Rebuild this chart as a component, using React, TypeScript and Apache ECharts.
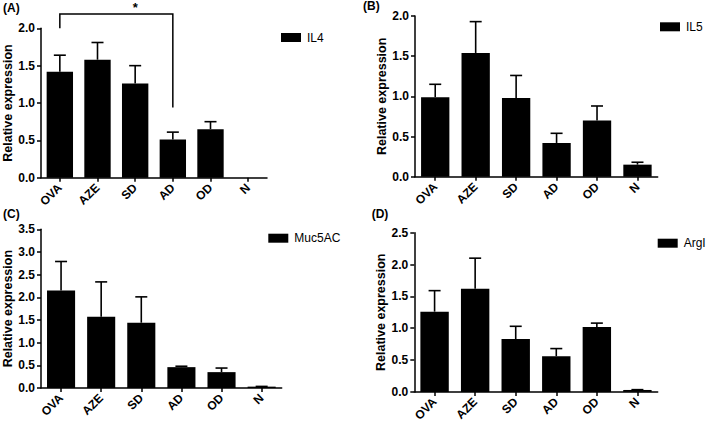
import React, { useEffect, useRef } from "react";
import * as echarts from "echarts";

const categories = ["OVA", "AZE", "SD", "AD", "OD", "N"];

const il4Mean = [1.42, 1.58, 1.26, 0.51, 0.65, 0];
const il4Err = [0.22, 0.23, 0.24, 0.1, 0.1, 0];

const il5Mean = [0.99, 1.54, 0.98, 0.42, 0.7, 0.15];
const il5Err = [0.16, 0.39, 0.28, 0.12, 0.18, 0.03];

const mucMean = [2.15, 1.57, 1.44, 0.46, 0.35, 0.03];
const mucErr = [0.64, 0.77, 0.57, 0.02, 0.09, 0.005];

const argMean = [1.26, 1.62, 0.83, 0.56, 1.02, 0.03];
const argErr = [0.33, 0.48, 0.2, 0.12, 0.06, 0.005];

const seriesNames = ["IL4", "IL5", "Muc5AC", "ArgI"];
const panelLabels = ["(A)", "(B)", "(C)", "(D)"];
const yMax = [2, 2, 3.5, 2.5];
const yTitle = "Relative expression";

// significance bracket in panel A: [fromIndex, toIndex, topValue, leftLegEnd, rightLegEnd]
const bracketA = [0, 3, 2.19, 2.0, 0.94];
const starValue = 2.37;
const starText = "*";

const FONT = "Liberation Sans, Arial, sans-serif";

export default function App() {
  const ref = useRef<HTMLDivElement>(null);
  useEffect(() => {
    if (!ref.current) return;
    const chart = echarts.init(ref.current, null, { renderer: "svg" });

    const grids = [
      { left: 41, top: 28.3, width: 226, height: 149.4 },
      { left: 415, top: 16, width: 242.7, height: 160.7 },
      { left: 41, top: 229.3, width: 240.7, height: 158.7 },
      { left: 414.3, top: 232.7, width: 243.4, height: 160.3 },
    ];
    const legendPos = [
      { left: 281, top: 31.5 },
      { left: 660, top: 20.8 },
      { left: 268.3, top: 232.2 },
      { left: 657.7, top: 237.2 },
    ];
    const labelPos = [
      [3, 2],
      [363, 0],
      [3, 207.5],
      [371.7, 207.5],
    ];
    const means = [il4Mean, il5Mean, mucMean, argMean];
    const errs = [il4Err, il5Err, mucErr, argErr];

    const axisLine = { show: true, lineStyle: { color: "#000", width: 1.5 } };
    const axisTick = { show: true, length: 4, lineStyle: { color: "#000", width: 1.5 } };

    const xAxis = grids.map((_, i) => ({
      type: "category",
      gridIndex: i,
      data: categories,
      axisLine,
      axisTick: { ...axisTick, alignWithLabel: true },
      axisLabel: {
        rotate: 45,
        margin: 8,
        color: "#000",
        fontWeight: "bold",
        fontSize: 12,
        fontFamily: FONT,
        interval: 0,
      },
    }));
    const yAxis = grids.map((_, i) => ({
      type: "value",
      gridIndex: i,
      min: 0,
      max: yMax[i],
      interval: 0.5,
      name: yTitle,
      nameLocation: "middle",
      nameRotate: 90,
      nameGap: 26,
      nameTextStyle: { color: "#000", fontWeight: "bold", fontSize: 12.5, fontFamily: FONT },
      axisLine,
      axisTick,
      splitLine: { show: false },
      axisLabel: {
        margin: 6,
        color: "#000",
        fontWeight: "bold",
        fontSize: 12,
        fontFamily: FONT,
        formatter: (v: number) => v.toFixed(1),
      },
    }));

    const series: any[] = [];
    grids.forEach((_, i) => {
      series.push({
        type: "bar",
        name: seriesNames[i],
        xAxisIndex: i,
        yAxisIndex: i,
        data: means[i],
        barCategoryGap: "30%",
        itemStyle: { color: "#000" },
      });
      series.push({
        type: "custom",
        name: seriesNames[i] + " err",
        xAxisIndex: i,
        yAxisIndex: i,
        clip: false,
        data: means[i].map((m, k) => [k, m, errs[i][k]]),
        renderItem: (params: any, api: any) => {
          const x = api.value(0);
          const m = api.value(1);
          const e = api.value(2);
          if (!e) return null;
          const p0 = api.coord([x, m]);
          const p1 = api.coord([x, m + e]);
          const style = { stroke: "#000", lineWidth: 1.6 };
          return {
            type: "group",
            children: [
              { type: "line", shape: { x1: p0[0], y1: p0[1], x2: p1[0], y2: p1[1] }, style },
              { type: "line", shape: { x1: p1[0] - 6, y1: p1[1], x2: p1[0] + 6, y2: p1[1] }, style },
            ],
          };
        },
      });
    });

    series.push({
      type: "custom",
      name: "bracket",
      xAxisIndex: 0,
      yAxisIndex: 0,
      clip: false,
      data: [bracketA],
      renderItem: (params: any, api: any) => {
        const a = api.value(0);
        const b = api.value(1);
        const top = api.value(2);
        const lEnd = api.value(3);
        const rEnd = api.value(4);
        const p1 = api.coord([a, lEnd]);
        const p2 = api.coord([a, top]);
        const p3 = api.coord([b, top]);
        const p4 = api.coord([b, rEnd]);
        const ps = api.coord([(a + b) / 2, starValue]);
        return {
          type: "group",
          children: [
            {
              type: "polyline",
              shape: { points: [p1, p2, p3, p4] },
              style: { stroke: "#000", lineWidth: 1.5, fill: "none" },
            },
            {
              type: "text",
              x: ps[0],
              y: Math.max(ps[1], 0.5),
              style: {
                text: starText,
                align: "center",
                verticalAlign: "top",
                fontSize: 13,
                fontWeight: "bold",
                fontFamily: FONT,
                fill: "#000",
              },
            },
          ],
        };
      },
    });

    const legend = grids.map((_, i) => ({
      data: [seriesNames[i]],
      left: legendPos[i].left,
      top: legendPos[i].top,
      padding: 0,
      icon: "rect",
      itemWidth: 20,
      itemHeight: 9,
      itemGap: 0,
      selectedMode: false,
      textStyle: { color: "#000", fontSize: 12, fontFamily: FONT, padding: [0, 0, 0, 1] },
    }));

    const graphic = panelLabels.map((t, i) => ({
      type: "text",
      left: labelPos[i][0],
      top: labelPos[i][1],
      style: {
        text: t,
        fontSize: 12,
        fontWeight: "bold",
        fontFamily: FONT,
        fill: "#000",
      },
    }));

    chart.setOption({
      animation: false,
      backgroundColor: "#fff",
      grid: grids,
      xAxis,
      yAxis,
      series,
      legend,
      graphic,
    } as any);

    return () => chart.dispose();
  }, []);

  return (
    <div
      ref={ref}
      style={{ position: "fixed", left: 0, top: 0, width: 709, height: 424 }}
    />
  );
}
